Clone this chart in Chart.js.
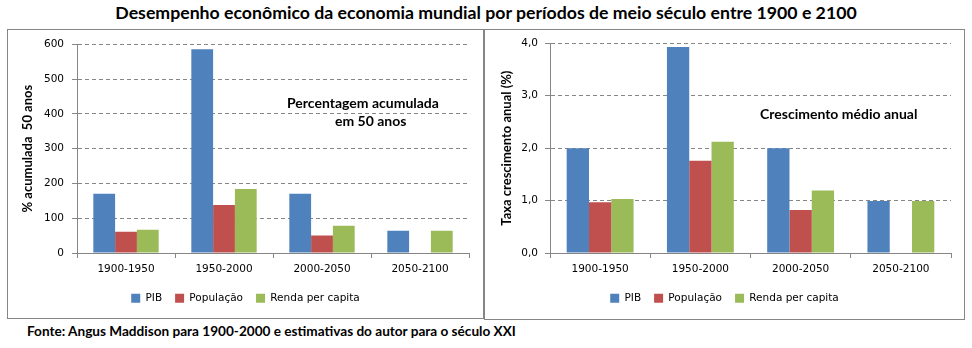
<!DOCTYPE html>
<html>
<head>
<meta charset="utf-8">
<script src="https://cdn.jsdelivr.net/npm/chart.js@4/dist/chart.umd.min.js"></script>
<style>
  body { margin: 0; width: 972px; height: 348px; background: #fff; position: relative; overflow: hidden; }
  #title { position: absolute; left: 0; top: 2px; width: 972px; text-align: center;
           font: bold 17.7px Lato, sans-serif; color: #000; }
  .box { position: absolute; box-sizing: border-box; border: 1px solid #868686; background: #fff; }
  .box canvas { position: absolute; left: 0; top: 0; }
  .note { position: absolute; font: bold 14px Lato, sans-serif; color: #000; white-space: nowrap; }
  #fonte { position: absolute; left: 27px; top: 323px; font: bold 13.6px Lato, sans-serif; color: #000; }
</style>
</head>
<body>
<div id="title">Desempenho econômico da economia mundial por períodos de meio século entre 1900 e 2100</div>

<div class="box" style="left:7px; top:29px; width:477px; height:290px;">
  <canvas id="acumChart" width="475" height="288"></canvas>
</div>
<div class="box" style="left:484px; top:29px; width:481px; height:291px;">
  <canvas id="taxaChart" width="479" height="289"></canvas>
</div>

<div class="note" style="left:287px; top:94px;">Percentagem acumulada</div>
<div class="note" style="left:335px; top:112px;">em 50 anos</div>
<div class="note" style="left:760px; top:105px;">Crescimento médio anual</div>

<div id="fonte">Fonte: Angus Maddison para 1900-2000 e estimativas do autor para o século XXI</div>

<script>
// periods
const periodos = ['1900-1950', '1950-2000', '2000-2050', '2050-2100'];
const seriesNames = ['PIB', 'População', 'Renda per capita'];

// % accumulated in 50 years
const acumPIB = [170, 586, 170, 64];
const acumPop = [61, 138, 50, null];
const acumRenda = [67, 184, 78, 64];

// average annual growth (%)
const taxaPIB = [2.0, 3.93, 2.0, 0.99];
const taxaPop = [0.97, 1.76, 0.82, null];
const taxaRenda = [1.03, 2.12, 1.19, 0.99];

// axis ticks
const acumTicks = [0, 100, 200, 300, 400, 500, 600];
const taxaTicks = [0, 1, 2, 3, 4];

const cores = ['#4F81BD', '#C0504D', '#9BBB59'];
const tickFont = { family: 'DejaVu Sans', size: 10.5 };
const titleFont = { family: 'Lato', size: 13, weight: 'bold' };

// legend is centred on the whole box in Excel, not on the area left of the right padding
const legendShift = {
    id: 'legendShift',
    afterLayout(chart) {
        const shift = chart.options.layout.padding.right / 2;
        chart.legend.left += shift;
        chart.legend.right += shift;
    }
};

function makeDatasets(values) {
    return values.map((data, i) => ({
        label: seriesNames[i],
        data: data,
        backgroundColor: cores[i],
        borderWidth: 0,
        categoryPercentage: 0.667,
        barPercentage: 1.0
    }));
}

function makeChart(canvasId, values, ticks, yTitle, opts) {
    const ctx = document.getElementById(canvasId).getContext('2d');
    return new Chart(ctx, {
        type: 'bar',
        data: {
            labels: periodos,
            datasets: makeDatasets(values)
        },
        options: {
            responsive: false,
            animation: false,
            layout: { padding: { top: opts.top, right: opts.right, bottom: opts.bottom, left: 0 } },
            scales: {
                x: {
                    grid: { display: true, drawOnChartArea: false, tickLength: 5, color: '#868686' },
                    border: { color: '#868686' },
                    ticks: { color: '#000', font: tickFont, padding: 5, maxRotation: 0 },
                    afterFit: (scale) => { scale.height = 27; }
                },
                y: {
                    min: 0,
                    max: ticks[ticks.length - 1],
                    afterBuildTicks: (scale) => { scale.ticks = ticks.map(v => ({ value: v })); },
                    grid: { color: '#868686', tickLength: 5, tickBorderDash: [] },
                    border: { color: '#868686', dash: [4, 3] },
                    ticks: { color: '#000', font: tickFont, padding: opts.tickPad, callback: opts.fmt },
                    title: { display: true, text: yTitle, color: '#000', font: titleFont, padding: { top: opts.titlePad, bottom: 0 } },
                    afterFit: (scale) => { scale.width = opts.yWidth; }
                }
            },
            plugins: {
                legend: {
                    position: 'bottom',
                    labels: { color: '#000', font: tickFont, boxWidth: 9, boxHeight: 9, padding: 13 }
                },
                tooltip: { enabled: false }
            }
        },
        plugins: [legendShift]
    });
}

makeChart('acumChart', [acumPIB, acumPop, acumRenda], acumTicks, '% acumulada  50 anos',
    { top: 14, right: 14, bottom: 4.5, yWidth: 69, tickPad: 8, titlePad: 12, fmt: (v) => v });

makeChart('taxaChart', [taxaPIB, taxaPop, taxaRenda], taxaTicks, 'Taxa crescimento anual (%)',
    { top: 13, right: 13, bottom: 5.5, yWidth: 65, tickPad: 7, titlePad: 14, fmt: (v) => v.toFixed(1).replace('.', ',') });
</script>
</body>
</html>
